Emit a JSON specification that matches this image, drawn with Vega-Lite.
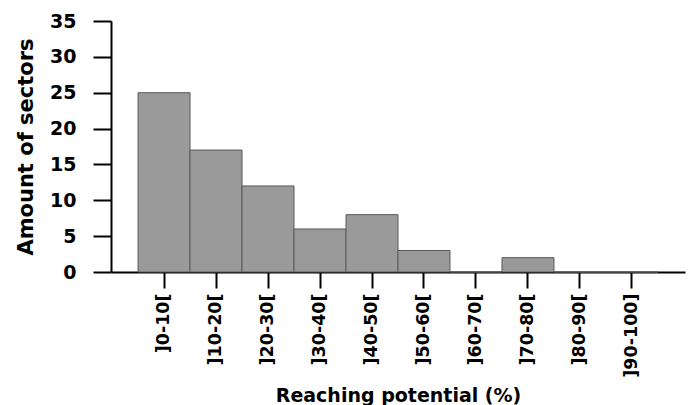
{
  "$schema": "https://vega.github.io/schema/vega-lite/v6.json",
  "autosize": "none",
  "width": 574,
  "height": 251,
  "padding": {"left": 111, "top": 21, "right": 4, "bottom": 133},
  "background": "white",
  "config": {
    "view": {"stroke": null},
    "font": "DejaVu Sans",
    "axis": {
      "grid": false,
      "domainColor": "black",
      "domainWidth": 2,
      "tickColor": "black",
      "tickWidth": 2,
      "labelColor": "black",
      "titleColor": "black",
      "labelFont": "DejaVu Sans",
      "titleFont": "DejaVu Sans",
      "labelFontWeight": "bold",
      "titleFontWeight": "bold"
    }
  },
  "data": {
    "values": [
      {"range": "]0-10[", "count": 25},
      {"range": "]10-20[", "count": 17},
      {"range": "]20-30[", "count": 12},
      {"range": "]30-40[", "count": 6},
      {"range": "]40-50[", "count": 8},
      {"range": "]50-60[", "count": 3},
      {"range": "]60-70[", "count": 0},
      {"range": "]70-80[", "count": 2},
      {"range": "]80-90[", "count": 0},
      {"range": "]90-100]", "count": 0}
    ]
  },
  "mark": {"type": "bar", "fill": "#9a9a9a", "stroke": "#5a5a5a", "strokeWidth": 1},
  "encoding": {
    "x": {
      "field": "range",
      "type": "nominal",
      "sort": null,
      "scale": {"paddingInner": 0, "paddingOuter": 0.52},
      "axis": {
        "title": "Reaching potential (%)",
        "titleFontSize": 19,
        "titlePadding": 9,
        "labelFontSize": 17.5,
        "labelAngle": -90,
        "labelAlign": "right",
        "labelBaseline": "middle",
        "labelPadding": 5,
        "tickSize": 16
      }
    },
    "y": {
      "field": "count",
      "type": "quantitative",
      "scale": {"domain": [0, 35], "nice": false},
      "axis": {
        "title": "Amount of sectors",
        "titleFontSize": 21,
        "titlePadding": 13,
        "values": [0, 5, 10, 15, 20, 25, 30, 35],
        "labelFontSize": 19,
        "labelPadding": 17,
        "tickSize": 18
      }
    }
  }
}
